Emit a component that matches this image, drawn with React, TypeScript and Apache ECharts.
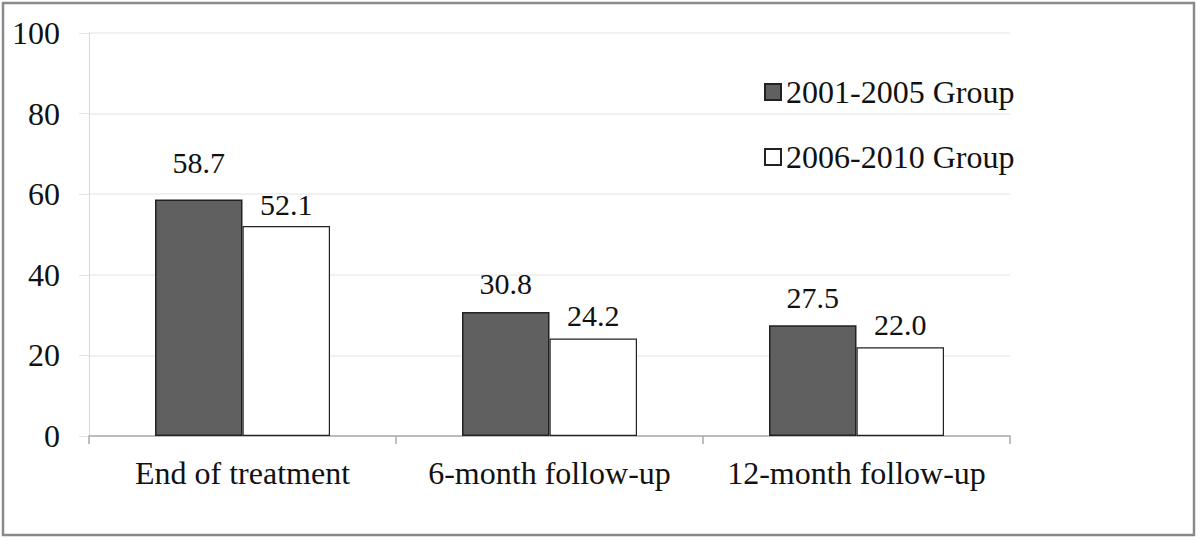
import React, { useEffect, useRef } from "react";
import * as echarts from "echarts";

const categories = ["End of treatment", "6-month follow-up", "12-month follow-up"];
const seriesNames = ["2001-2005 Group", "2006-2010 Group"];
const group1Values = [58.7, 30.8, 27.5];
const group2Values = [52.1, 24.2, 22.0];
const group1LabelDistance = [22, 13, 13];
const group2LabelDistance = [7, 8, 8];
const yTicks = [0, 20, 40, 60, 80, 100];

const FONT = "Liberation Serif, Times New Roman, serif";

export default function App() {
  const ref = useRef<HTMLDivElement>(null);
  useEffect(() => {
    if (!ref.current) return;
    const chart = echarts.init(ref.current, undefined, { renderer: "svg" });
    const mk = (vals: number[], dists: number[]) =>
      vals.map((v, i) => ({ value: v, label: { distance: dists[i] } }));
    chart.setOption({
      animation: false,
      backgroundColor: "#fff",
      textStyle: { fontFamily: FONT, color: "#111" },
      graphic: [
        {
          type: "rect",
          shape: { x: 3, y: 3, width: 1191, height: 532 },
          style: { fill: "none", stroke: "#8a8a8a", lineWidth: 2.5 },
          silent: true,
        },
      ],
      grid: { left: 89, right: 190, top: 33, bottom: 104, containLabel: false },
      legend: {
        orient: "vertical",
        left: 764,
        top: 76,
        padding: 0,
        itemWidth: 16,
        itemHeight: 16,
        itemGap: 33,
        icon: "rect",
        textStyle: { fontFamily: FONT, fontSize: 32, color: "#111" },
        data: seriesNames,
      },
      xAxis: {
        type: "category",
        data: categories,
        axisLine: { lineStyle: { color: "#aaaaaa", width: 1.5 } },
        axisTick: { show: true, length: 8, lineStyle: { color: "#aaaaaa", width: 1.5 } },
        axisLabel: { fontFamily: FONT, fontSize: 32, color: "#111", margin: 21, interval: 0 },
        splitLine: { show: false },
      },
      yAxis: {
        type: "value",
        min: yTicks[0],
        max: yTicks[yTicks.length - 1],
        interval: yTicks[1] - yTicks[0],
        axisLine: { show: true, lineStyle: { color: "#d9d9d9", width: 1 } },
        axisTick: { show: true, length: 10, lineStyle: { color: "#e3e3e3", width: 1 } },
        axisLabel: { fontFamily: FONT, fontSize: 32, color: "#111", margin: 29 },
        splitLine: { show: true, lineStyle: { color: "#ececec", width: 1.5 } },
      },
      series: [
        {
          name: seriesNames[0],
          type: "bar",
          data: mk(group1Values, group1LabelDistance),
          barGap: "0%",
          barCategoryGap: "43%",
          itemStyle: { color: "#606060", borderColor: "#222", borderWidth: 1.5 },
          label: {
            show: true,
            position: "top",
            fontFamily: FONT,
            fontSize: 30,
            color: "#111",
            formatter: (p: any) => Number(p.value).toFixed(1),
          },
        },
        {
          name: seriesNames[1],
          type: "bar",
          data: mk(group2Values, group2LabelDistance),
          barGap: "0%",
          barCategoryGap: "43%",
          itemStyle: { color: "#ffffff", borderColor: "#222", borderWidth: 1.2 },
          label: {
            show: true,
            position: "top",
            fontFamily: FONT,
            fontSize: 30,
            color: "#111",
            formatter: (p: any) => Number(p.value).toFixed(1),
          },
        },
      ],
    });
    return () => chart.dispose();
  }, []);
  return (
    <div
      ref={ref}
      style={{ position: "fixed", left: 0, top: 0, width: 1200, height: 540, background: "#fff" }}
    />
  );
}
